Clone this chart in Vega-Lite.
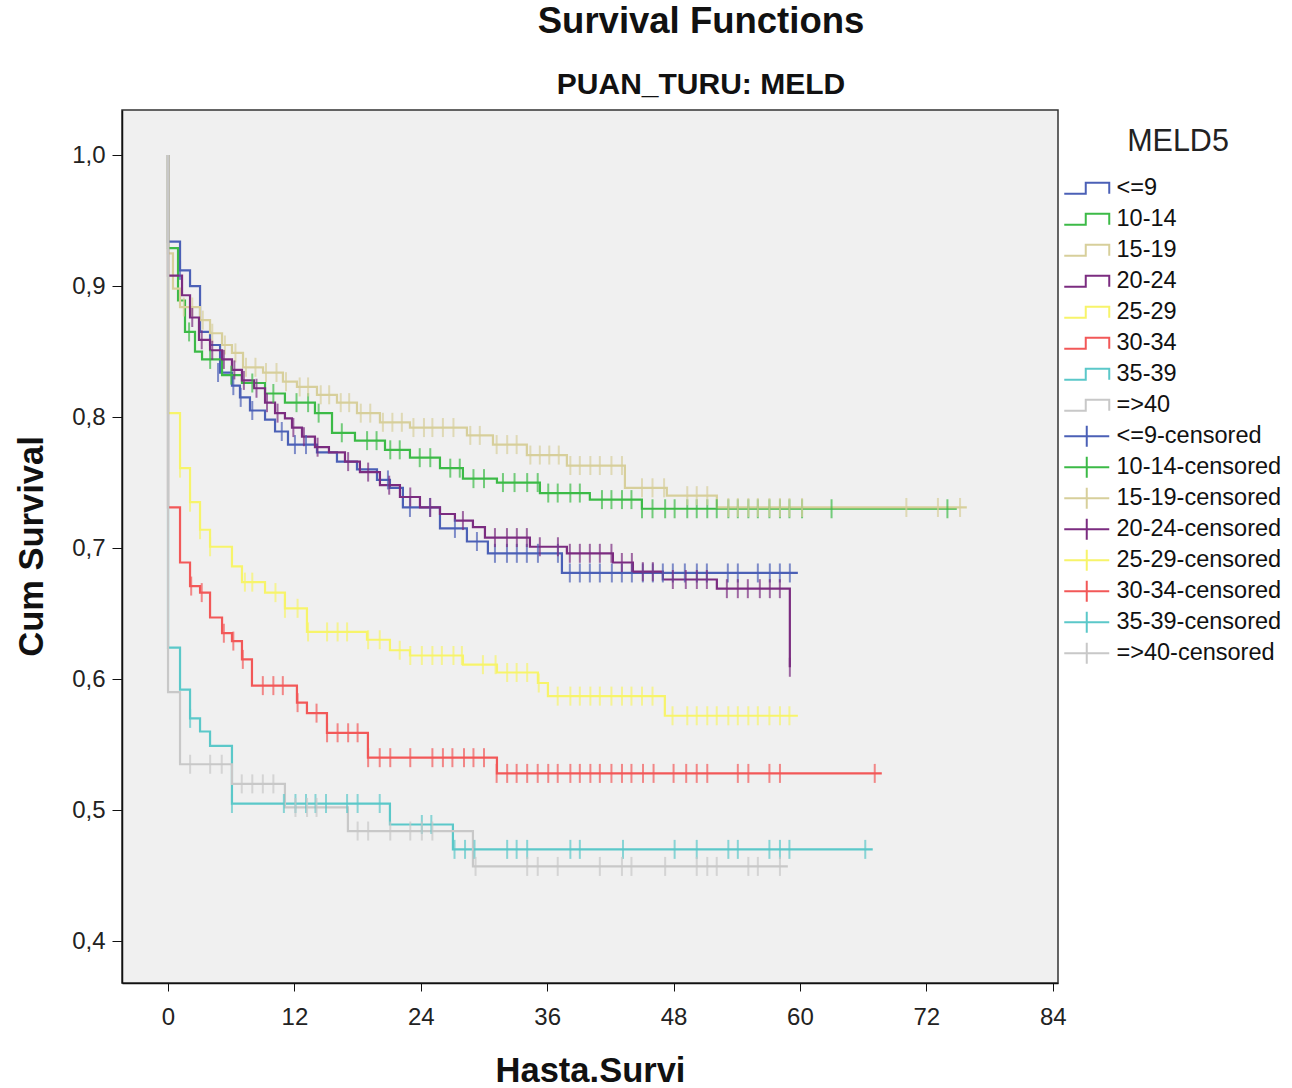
{
"$schema": "https://vega.github.io/schema/vega-lite/v6.json",
"width": 936, "height": 873,
"autosize": {"type": "none"},
"padding": {"left": 122, "top": 110, "right": 234, "bottom": 105},
"background": "white",
"title": {"text": "Survival Functions", "subtitle": "PUAN_TURU: MELD", "anchor": "middle", "dx": 111, "offset": 10, "subtitlePadding": 30,
  "font": "Liberation Sans", "fontSize": 36.5, "fontWeight": "bold", "color": "#111",
  "subtitleFont": "Liberation Sans", "subtitleFontSize": 30, "subtitleFontWeight": "bold", "subtitleColor": "#111"},
"datasets": {
"curves": [
{"g":"<=9","t":0,"s":1},{"g":"<=9","t":0,"s":0.934},{"g":"<=9","t":1.14,"s":0.912},{"g":"<=9","t":2.09,"s":0.9},{"g":"<=9","t":3.04,"s":0.865},{"g":"<=9","t":3.99,"s":0.855},{"g":"<=9","t":4.94,"s":0.834},{"g":"<=9","t":6.07,"s":0.824},{"g":"<=9","t":6.83,"s":0.815},{"g":"<=9","t":7.78,"s":0.805},{"g":"<=9","t":9.21,"s":0.798},{"g":"<=9","t":10.16,"s":0.789},{"g":"<=9","t":11.39,"s":0.779},{"g":"<=9","t":14.14,"s":0.773},{"g":"<=9","t":16.04,"s":0.766},{"g":"<=9","t":17.94,"s":0.76},{"g":"<=9","t":19.84,"s":0.752},{"g":"<=9","t":21.07,"s":0.746},{"g":"<=9","t":22.3,"s":0.731},{"g":"<=9","t":25.82,"s":0.715},{"g":"<=9","t":28.38,"s":0.705},{"g":"<=9","t":30.37,"s":0.696},{"g":"<=9","t":37.4,"s":0.681},{"g":"<=9","t":59.8,"s":0.681},
{"g":"10-14","t":0,"s":1},{"g":"10-14","t":0,"s":0.929},{"g":"10-14","t":0.95,"s":0.889},{"g":"10-14","t":1.61,"s":0.865},{"g":"10-14","t":2.56,"s":0.85},{"g":"10-14","t":3.23,"s":0.844},{"g":"10-14","t":5.13,"s":0.832},{"g":"10-14","t":7.02,"s":0.826},{"g":"10-14","t":9.21,"s":0.818},{"g":"10-14","t":11.1,"s":0.811},{"g":"10-14","t":13.95,"s":0.803},{"g":"10-14","t":15.57,"s":0.788},{"g":"10-14","t":17.75,"s":0.782},{"g":"10-14","t":20.6,"s":0.775},{"g":"10-14","t":22.97,"s":0.769},{"g":"10-14","t":25.82,"s":0.761},{"g":"10-14","t":28.0,"s":0.753},{"g":"10-14","t":31.23,"s":0.75},{"g":"10-14","t":35.31,"s":0.742},{"g":"10-14","t":40.05,"s":0.737},{"g":"10-14","t":44.99,"s":0.73},{"g":"10-14","t":74.89,"s":0.73},
{"g":"15-19","t":0,"s":1},{"g":"15-19","t":0,"s":0.925},{"g":"15-19","t":0.47,"s":0.898},{"g":"15-19","t":1.14,"s":0.884},{"g":"15-19","t":3.04,"s":0.874},{"g":"15-19","t":3.99,"s":0.864},{"g":"15-19","t":5.13,"s":0.855},{"g":"15-19","t":6.07,"s":0.849},{"g":"15-19","t":7.12,"s":0.838},{"g":"15-19","t":9.02,"s":0.834},{"g":"15-19","t":10.91,"s":0.827},{"g":"15-19","t":12.24,"s":0.823},{"g":"15-19","t":14.14,"s":0.817},{"g":"15-19","t":16.04,"s":0.811},{"g":"15-19","t":17.94,"s":0.803},{"g":"15-19","t":20.12,"s":0.796},{"g":"15-19","t":22.97,"s":0.792},{"g":"15-19","t":28.38,"s":0.786},{"g":"15-19","t":30.85,"s":0.779},{"g":"15-19","t":34.07,"s":0.771},{"g":"15-19","t":37.87,"s":0.763},{"g":"15-19","t":43.38,"s":0.746},{"g":"15-19","t":47.36,"s":0.74},{"g":"15-19","t":52.11,"s":0.731},{"g":"15-19","t":75.84,"s":0.731},
{"g":"20-24","t":0,"s":1},{"g":"20-24","t":0,"s":0.908},{"g":"20-24","t":1.33,"s":0.893},{"g":"20-24","t":2.09,"s":0.876},{"g":"20-24","t":2.94,"s":0.859},{"g":"20-24","t":3.99,"s":0.851},{"g":"20-24","t":5.13,"s":0.844},{"g":"20-24","t":6.07,"s":0.836},{"g":"20-24","t":7.02,"s":0.828},{"g":"20-24","t":8.16,"s":0.822},{"g":"20-24","t":9.21,"s":0.811},{"g":"20-24","t":10.16,"s":0.803},{"g":"20-24","t":11.1,"s":0.799},{"g":"20-24","t":11.77,"s":0.792},{"g":"20-24","t":12.72,"s":0.785},{"g":"20-24","t":13.95,"s":0.777},{"g":"20-24","t":15.28,"s":0.773},{"g":"20-24","t":16.8,"s":0.766},{"g":"20-24","t":18.22,"s":0.758},{"g":"20-24","t":20.12,"s":0.748},{"g":"20-24","t":22.02,"s":0.739},{"g":"20-24","t":23.92,"s":0.731},{"g":"20-24","t":25.82,"s":0.726},{"g":"20-24","t":27.24,"s":0.721},{"g":"20-24","t":28.95,"s":0.716},{"g":"20-24","t":30.09,"s":0.708},{"g":"20-24","t":34.36,"s":0.701},{"g":"20-24","t":37.87,"s":0.696},{"g":"20-24","t":42.24,"s":0.689},{"g":"20-24","t":44.14,"s":0.682},{"g":"20-24","t":46.98,"s":0.676},{"g":"20-24","t":52.11,"s":0.669},{"g":"20-24","t":59.04,"s":0.609},
{"g":"25-29","t":0,"s":1},{"g":"25-29","t":0,"s":0.803},{"g":"25-29","t":1.14,"s":0.761},{"g":"25-29","t":2.09,"s":0.735},{"g":"25-29","t":3.04,"s":0.714},{"g":"25-29","t":3.99,"s":0.701},{"g":"25-29","t":6.07,"s":0.686},{"g":"25-29","t":7.02,"s":0.674},{"g":"25-29","t":9.21,"s":0.666},{"g":"25-29","t":11.1,"s":0.654},{"g":"25-29","t":13.19,"s":0.636},{"g":"25-29","t":18.89,"s":0.63},{"g":"25-29","t":21.07,"s":0.622},{"g":"25-29","t":22.97,"s":0.618},{"g":"25-29","t":28.0,"s":0.611},{"g":"25-29","t":31.23,"s":0.605},{"g":"25-29","t":35.12,"s":0.597},{"g":"25-29","t":36.07,"s":0.587},{"g":"25-29","t":47.17,"s":0.572},{"g":"25-29","t":59.8,"s":0.572},
{"g":"30-34","t":0,"s":1},{"g":"30-34","t":0,"s":0.731},{"g":"30-34","t":1.14,"s":0.689},{"g":"30-34","t":2.09,"s":0.671},{"g":"30-34","t":3.04,"s":0.666},{"g":"30-34","t":3.99,"s":0.647},{"g":"30-34","t":5.13,"s":0.635},{"g":"30-34","t":6.07,"s":0.629},{"g":"30-34","t":7.02,"s":0.615},{"g":"30-34","t":7.97,"s":0.595},{"g":"30-34","t":12.24,"s":0.582},{"g":"30-34","t":13.19,"s":0.574},{"g":"30-34","t":15.09,"s":0.559},{"g":"30-34","t":18.98,"s":0.54},{"g":"30-34","t":31.23,"s":0.528},{"g":"30-34","t":67.77,"s":0.528},
{"g":"35-39","t":0,"s":1},{"g":"35-39","t":0,"s":0.624},{"g":"35-39","t":1.14,"s":0.592},{"g":"35-39","t":2.09,"s":0.57},{"g":"35-39","t":3.04,"s":0.56},{"g":"35-39","t":3.99,"s":0.549},{"g":"35-39","t":6.07,"s":0.505},{"g":"35-39","t":21.07,"s":0.489},{"g":"35-39","t":27.05,"s":0.47},{"g":"35-39","t":66.91,"s":0.47},
{"g":"=>40","t":0,"s":1},{"g":"=>40","t":0,"s":0.59},{"g":"=>40","t":1.14,"s":0.535},{"g":"=>40","t":6.07,"s":0.52},{"g":"=>40","t":11.1,"s":0.502},{"g":"=>40","t":17.08,"s":0.484},{"g":"=>40","t":28.95,"s":0.457},{"g":"=>40","t":58.85,"s":0.457}
],
"cens": [
{"g":"<=9-censored","t":1.14,"s":0.912},{"g":"<=9-censored","t":4.75,"s":0.834},{"g":"<=9-censored","t":6.2,"s":0.824},{"g":"<=9-censored","t":6.9,"s":0.815},{"g":"<=9-censored","t":8.0,"s":0.805},{"g":"<=9-censored","t":10.8,"s":0.789},{"g":"<=9-censored","t":12.05,"s":0.779},{"g":"<=9-censored","t":13.1,"s":0.779},{"g":"<=9-censored","t":20.88,"s":0.752},{"g":"<=9-censored","t":22.97,"s":0.731},{"g":"<=9-censored","t":24.87,"s":0.731},{"g":"<=9-censored","t":27.24,"s":0.715},{"g":"<=9-censored","t":29.33,"s":0.705},{"g":"<=9-censored","t":31.04,"s":0.696},{"g":"<=9-censored","t":32.18,"s":0.696},{"g":"<=9-censored","t":33.12,"s":0.696},{"g":"<=9-censored","t":34.07,"s":0.696},{"g":"<=9-censored","t":35.12,"s":0.696},{"g":"<=9-censored","t":37.02,"s":0.696},{"g":"<=9-censored","t":38.15,"s":0.681},{"g":"<=9-censored","t":39.1,"s":0.681},{"g":"<=9-censored","t":40.05,"s":0.681},{"g":"<=9-censored","t":41.0,"s":0.681},{"g":"<=9-censored","t":42.14,"s":0.681},{"g":"<=9-censored","t":43.09,"s":0.681},{"g":"<=9-censored","t":44.04,"s":0.681},{"g":"<=9-censored","t":45.08,"s":0.681},{"g":"<=9-censored","t":46.03,"s":0.681},{"g":"<=9-censored","t":46.98,"s":0.681},{"g":"<=9-censored","t":47.93,"s":0.681},{"g":"<=9-censored","t":49.07,"s":0.681},{"g":"<=9-censored","t":50.21,"s":0.681},{"g":"<=9-censored","t":51.16,"s":0.681},{"g":"<=9-censored","t":53.15,"s":0.681},{"g":"<=9-censored","t":54.1,"s":0.681},{"g":"<=9-censored","t":56.0,"s":0.681},{"g":"<=9-censored","t":57.14,"s":0.681},{"g":"<=9-censored","t":58.09,"s":0.681},{"g":"<=9-censored","t":59.04,"s":0.681},
{"g":"10-14-censored","t":2.0,"s":0.865},{"g":"10-14-censored","t":4.0,"s":0.844},{"g":"10-14-censored","t":6.0,"s":0.832},{"g":"10-14-censored","t":8.0,"s":0.826},{"g":"10-14-censored","t":10.0,"s":0.818},{"g":"10-14-censored","t":12.2,"s":0.811},{"g":"10-14-censored","t":13.3,"s":0.811},{"g":"10-14-censored","t":14.3,"s":0.803},{"g":"10-14-censored","t":16.5,"s":0.788},{"g":"10-14-censored","t":18.9,"s":0.782},{"g":"10-14-censored","t":19.8,"s":0.782},{"g":"10-14-censored","t":21.1,"s":0.775},{"g":"10-14-censored","t":22.0,"s":0.775},{"g":"10-14-censored","t":23.9,"s":0.769},{"g":"10-14-censored","t":24.9,"s":0.769},{"g":"10-14-censored","t":26.8,"s":0.761},{"g":"10-14-censored","t":27.7,"s":0.761},{"g":"10-14-censored","t":29.0,"s":0.753},{"g":"10-14-censored","t":30.0,"s":0.753},{"g":"10-14-censored","t":31.8,"s":0.75},{"g":"10-14-censored","t":32.9,"s":0.75},{"g":"10-14-censored","t":34.1,"s":0.75},{"g":"10-14-censored","t":35.1,"s":0.75},{"g":"10-14-censored","t":36.1,"s":0.742},{"g":"10-14-censored","t":37.0,"s":0.742},{"g":"10-14-censored","t":38.2,"s":0.742},{"g":"10-14-censored","t":39.1,"s":0.742},{"g":"10-14-censored","t":41.2,"s":0.737},{"g":"10-14-censored","t":42.1,"s":0.737},{"g":"10-14-censored","t":43.1,"s":0.737},{"g":"10-14-censored","t":44.0,"s":0.737},{"g":"10-14-censored","t":45.0,"s":0.73},{"g":"10-14-censored","t":46.0,"s":0.73},{"g":"10-14-censored","t":47.2,"s":0.73},{"g":"10-14-censored","t":48.1,"s":0.73},{"g":"10-14-censored","t":49.3,"s":0.73},{"g":"10-14-censored","t":50.2,"s":0.73},{"g":"10-14-censored","t":51.2,"s":0.73},{"g":"10-14-censored","t":52.1,"s":0.73},{"g":"10-14-censored","t":53.2,"s":0.73},{"g":"10-14-censored","t":54.1,"s":0.73},{"g":"10-14-censored","t":55.1,"s":0.73},{"g":"10-14-censored","t":56.0,"s":0.73},{"g":"10-14-censored","t":57.1,"s":0.73},{"g":"10-14-censored","t":58.1,"s":0.73},{"g":"10-14-censored","t":59.0,"s":0.73},{"g":"10-14-censored","t":60.2,"s":0.73},{"g":"10-14-censored","t":63.0,"s":0.73},{"g":"10-14-censored","t":74.0,"s":0.73},
{"g":"15-19-censored","t":1.5,"s":0.884},{"g":"15-19-censored","t":2.3,"s":0.884},{"g":"15-19-censored","t":3.3,"s":0.874},{"g":"15-19-censored","t":4.2,"s":0.864},{"g":"15-19-censored","t":5.4,"s":0.855},{"g":"15-19-censored","t":6.4,"s":0.849},{"g":"15-19-censored","t":7.4,"s":0.838},{"g":"15-19-censored","t":8.3,"s":0.838},{"g":"15-19-censored","t":9.3,"s":0.834},{"g":"15-19-censored","t":10.3,"s":0.834},{"g":"15-19-censored","t":11.2,"s":0.827},{"g":"15-19-censored","t":12.5,"s":0.823},{"g":"15-19-censored","t":13.3,"s":0.823},{"g":"15-19-censored","t":14.5,"s":0.817},{"g":"15-19-censored","t":15.3,"s":0.817},{"g":"15-19-censored","t":16.4,"s":0.811},{"g":"15-19-censored","t":17.2,"s":0.811},{"g":"15-19-censored","t":18.3,"s":0.803},{"g":"15-19-censored","t":19.2,"s":0.803},{"g":"15-19-censored","t":20.4,"s":0.796},{"g":"15-19-censored","t":21.3,"s":0.796},{"g":"15-19-censored","t":22.2,"s":0.796},{"g":"15-19-censored","t":23.3,"s":0.792},{"g":"15-19-censored","t":24.3,"s":0.792},{"g":"15-19-censored","t":25.1,"s":0.792},{"g":"15-19-censored","t":26.1,"s":0.792},{"g":"15-19-censored","t":27.1,"s":0.792},{"g":"15-19-censored","t":28.7,"s":0.786},{"g":"15-19-censored","t":29.6,"s":0.786},{"g":"15-19-censored","t":31.2,"s":0.779},{"g":"15-19-censored","t":32.2,"s":0.779},{"g":"15-19-censored","t":33.1,"s":0.779},{"g":"15-19-censored","t":34.4,"s":0.771},{"g":"15-19-censored","t":35.3,"s":0.771},{"g":"15-19-censored","t":36.2,"s":0.771},{"g":"15-19-censored","t":37.1,"s":0.771},{"g":"15-19-censored","t":38.2,"s":0.763},{"g":"15-19-censored","t":39.1,"s":0.763},{"g":"15-19-censored","t":40.1,"s":0.763},{"g":"15-19-censored","t":41.0,"s":0.763},{"g":"15-19-censored","t":42.1,"s":0.763},{"g":"15-19-censored","t":43.1,"s":0.763},{"g":"15-19-censored","t":45.0,"s":0.746},{"g":"15-19-censored","t":46.0,"s":0.746},{"g":"15-19-censored","t":47.1,"s":0.746},{"g":"15-19-censored","t":49.3,"s":0.74},{"g":"15-19-censored","t":50.2,"s":0.74},{"g":"15-19-censored","t":51.2,"s":0.74},{"g":"15-19-censored","t":53.2,"s":0.731},{"g":"15-19-censored","t":54.1,"s":0.731},{"g":"15-19-censored","t":55.1,"s":0.731},{"g":"15-19-censored","t":56.0,"s":0.731},{"g":"15-19-censored","t":57.1,"s":0.731},{"g":"15-19-censored","t":58.1,"s":0.731},{"g":"15-19-censored","t":59.0,"s":0.731},{"g":"15-19-censored","t":60.2,"s":0.731},{"g":"15-19-censored","t":70.1,"s":0.731},{"g":"15-19-censored","t":73.1,"s":0.731},{"g":"15-19-censored","t":75.2,"s":0.731},
{"g":"20-24-censored","t":2.3,"s":0.876},{"g":"20-24-censored","t":3.2,"s":0.859},{"g":"20-24-censored","t":4.2,"s":0.851},{"g":"20-24-censored","t":5.3,"s":0.844},{"g":"20-24-censored","t":6.3,"s":0.836},{"g":"20-24-censored","t":7.2,"s":0.828},{"g":"20-24-censored","t":8.4,"s":0.822},{"g":"20-24-censored","t":9.4,"s":0.811},{"g":"20-24-censored","t":10.4,"s":0.803},{"g":"20-24-censored","t":11.9,"s":0.792},{"g":"20-24-censored","t":12.9,"s":0.785},{"g":"20-24-censored","t":14.2,"s":0.777},{"g":"20-24-censored","t":17.1,"s":0.766},{"g":"20-24-censored","t":19.0,"s":0.758},{"g":"20-24-censored","t":21.0,"s":0.748},{"g":"20-24-censored","t":23.0,"s":0.739},{"g":"20-24-censored","t":24.9,"s":0.731},{"g":"20-24-censored","t":28.0,"s":0.721},{"g":"20-24-censored","t":31.04,"s":0.708},{"g":"20-24-censored","t":32.18,"s":0.708},{"g":"20-24-censored","t":33.12,"s":0.708},{"g":"20-24-censored","t":34.07,"s":0.708},{"g":"20-24-censored","t":35.3,"s":0.701},{"g":"20-24-censored","t":37.02,"s":0.701},{"g":"20-24-censored","t":38.15,"s":0.696},{"g":"20-24-censored","t":39.1,"s":0.696},{"g":"20-24-censored","t":40.05,"s":0.696},{"g":"20-24-censored","t":41.0,"s":0.696},{"g":"20-24-censored","t":42.1,"s":0.696},{"g":"20-24-censored","t":43.09,"s":0.689},{"g":"20-24-censored","t":44.04,"s":0.689},{"g":"20-24-censored","t":45.08,"s":0.682},{"g":"20-24-censored","t":46.03,"s":0.682},{"g":"20-24-censored","t":47.93,"s":0.676},{"g":"20-24-censored","t":49.16,"s":0.676},{"g":"20-24-censored","t":50.21,"s":0.676},{"g":"20-24-censored","t":51.16,"s":0.676},{"g":"20-24-censored","t":53.06,"s":0.669},{"g":"20-24-censored","t":54.1,"s":0.669},{"g":"20-24-censored","t":55.05,"s":0.669},{"g":"20-24-censored","t":56.19,"s":0.669},{"g":"20-24-censored","t":57.14,"s":0.669},{"g":"20-24-censored","t":58.09,"s":0.669},{"g":"20-24-censored","t":59.04,"s":0.609},
{"g":"25-29-censored","t":1.14,"s":0.761},{"g":"25-29-censored","t":2.09,"s":0.735},{"g":"25-29-censored","t":3.04,"s":0.714},{"g":"25-29-censored","t":3.99,"s":0.701},{"g":"25-29-censored","t":7.3,"s":0.674},{"g":"25-29-censored","t":8.0,"s":0.674},{"g":"25-29-censored","t":10.2,"s":0.666},{"g":"25-29-censored","t":11.1,"s":0.654},{"g":"25-29-censored","t":12.3,"s":0.654},{"g":"25-29-censored","t":13.3,"s":0.636},{"g":"25-29-censored","t":15.1,"s":0.636},{"g":"25-29-censored","t":16.1,"s":0.636},{"g":"25-29-censored","t":17.0,"s":0.636},{"g":"25-29-censored","t":19.0,"s":0.63},{"g":"25-29-censored","t":20.1,"s":0.63},{"g":"25-29-censored","t":22.0,"s":0.622},{"g":"25-29-censored","t":23.0,"s":0.618},{"g":"25-29-censored","t":24.1,"s":0.618},{"g":"25-29-censored","t":25.1,"s":0.618},{"g":"25-29-censored","t":26.0,"s":0.618},{"g":"25-29-censored","t":27.1,"s":0.618},{"g":"25-29-censored","t":27.9,"s":0.618},{"g":"25-29-censored","t":29.9,"s":0.611},{"g":"25-29-censored","t":31.1,"s":0.611},{"g":"25-29-censored","t":32.2,"s":0.605},{"g":"25-29-censored","t":33.1,"s":0.605},{"g":"25-29-censored","t":34.1,"s":0.605},{"g":"25-29-censored","t":35.2,"s":0.597},{"g":"25-29-censored","t":37.0,"s":0.587},{"g":"25-29-censored","t":38.2,"s":0.587},{"g":"25-29-censored","t":39.1,"s":0.587},{"g":"25-29-censored","t":40.1,"s":0.587},{"g":"25-29-censored","t":41.0,"s":0.587},{"g":"25-29-censored","t":42.1,"s":0.587},{"g":"25-29-censored","t":43.1,"s":0.587},{"g":"25-29-censored","t":44.0,"s":0.587},{"g":"25-29-censored","t":45.0,"s":0.587},{"g":"25-29-censored","t":46.0,"s":0.587},{"g":"25-29-censored","t":47.9,"s":0.572},{"g":"25-29-censored","t":49.3,"s":0.572},{"g":"25-29-censored","t":50.2,"s":0.572},{"g":"25-29-censored","t":51.2,"s":0.572},{"g":"25-29-censored","t":52.1,"s":0.572},{"g":"25-29-censored","t":53.2,"s":0.572},{"g":"25-29-censored","t":54.1,"s":0.572},{"g":"25-29-censored","t":55.1,"s":0.572},{"g":"25-29-censored","t":56.0,"s":0.572},{"g":"25-29-censored","t":57.1,"s":0.572},{"g":"25-29-censored","t":58.1,"s":0.572},{"g":"25-29-censored","t":59.0,"s":0.572},
{"g":"30-34-censored","t":2.2,"s":0.671},{"g":"30-34-censored","t":3.2,"s":0.666},{"g":"30-34-censored","t":5.3,"s":0.635},{"g":"30-34-censored","t":6.2,"s":0.629},{"g":"30-34-censored","t":7.1,"s":0.615},{"g":"30-34-censored","t":9.0,"s":0.595},{"g":"30-34-censored","t":10.0,"s":0.595},{"g":"30-34-censored","t":10.9,"s":0.595},{"g":"30-34-censored","t":12.3,"s":0.582},{"g":"30-34-censored","t":14.1,"s":0.574},{"g":"30-34-censored","t":15.1,"s":0.559},{"g":"30-34-censored","t":16.1,"s":0.559},{"g":"30-34-censored","t":17.1,"s":0.559},{"g":"30-34-censored","t":18.0,"s":0.559},{"g":"30-34-censored","t":19.0,"s":0.54},{"g":"30-34-censored","t":20.1,"s":0.54},{"g":"30-34-censored","t":21.1,"s":0.54},{"g":"30-34-censored","t":23.0,"s":0.54},{"g":"30-34-censored","t":25.1,"s":0.54},{"g":"30-34-censored","t":26.1,"s":0.54},{"g":"30-34-censored","t":27.0,"s":0.54},{"g":"30-34-censored","t":28.1,"s":0.54},{"g":"30-34-censored","t":29.0,"s":0.54},{"g":"30-34-censored","t":30.0,"s":0.54},{"g":"30-34-censored","t":31.2,"s":0.528},{"g":"30-34-censored","t":32.2,"s":0.528},{"g":"30-34-censored","t":33.1,"s":0.528},{"g":"30-34-censored","t":34.1,"s":0.528},{"g":"30-34-censored","t":35.1,"s":0.528},{"g":"30-34-censored","t":36.1,"s":0.528},{"g":"30-34-censored","t":37.0,"s":0.528},{"g":"30-34-censored","t":38.2,"s":0.528},{"g":"30-34-censored","t":39.1,"s":0.528},{"g":"30-34-censored","t":40.1,"s":0.528},{"g":"30-34-censored","t":41.0,"s":0.528},{"g":"30-34-censored","t":42.1,"s":0.528},{"g":"30-34-censored","t":43.1,"s":0.528},{"g":"30-34-censored","t":44.0,"s":0.528},{"g":"30-34-censored","t":45.1,"s":0.528},{"g":"30-34-censored","t":46.1,"s":0.528},{"g":"30-34-censored","t":48.0,"s":0.528},{"g":"30-34-censored","t":49.2,"s":0.528},{"g":"30-34-censored","t":50.2,"s":0.528},{"g":"30-34-censored","t":51.2,"s":0.528},{"g":"30-34-censored","t":54.1,"s":0.528},{"g":"30-34-censored","t":55.1,"s":0.528},{"g":"30-34-censored","t":57.1,"s":0.528},{"g":"30-34-censored","t":58.1,"s":0.528},{"g":"30-34-censored","t":67.1,"s":0.528},
{"g":"35-39-censored","t":2.1,"s":0.57},{"g":"35-39-censored","t":6.07,"s":0.505},{"g":"35-39-censored","t":11.0,"s":0.505},{"g":"35-39-censored","t":12.1,"s":0.505},{"g":"35-39-censored","t":13.1,"s":0.505},{"g":"35-39-censored","t":14.0,"s":0.505},{"g":"35-39-censored","t":15.0,"s":0.505},{"g":"35-39-censored","t":17.0,"s":0.505},{"g":"35-39-censored","t":18.0,"s":0.505},{"g":"35-39-censored","t":20.1,"s":0.505},{"g":"35-39-censored","t":24.1,"s":0.489},{"g":"35-39-censored","t":25.0,"s":0.489},{"g":"35-39-censored","t":27.2,"s":0.47},{"g":"35-39-censored","t":28.2,"s":0.47},{"g":"35-39-censored","t":29.1,"s":0.47},{"g":"35-39-censored","t":32.2,"s":0.47},{"g":"35-39-censored","t":33.1,"s":0.47},{"g":"35-39-censored","t":34.1,"s":0.47},{"g":"35-39-censored","t":38.2,"s":0.47},{"g":"35-39-censored","t":39.1,"s":0.47},{"g":"35-39-censored","t":43.2,"s":0.47},{"g":"35-39-censored","t":48.1,"s":0.47},{"g":"35-39-censored","t":50.2,"s":0.47},{"g":"35-39-censored","t":53.2,"s":0.47},{"g":"35-39-censored","t":54.1,"s":0.47},{"g":"35-39-censored","t":57.1,"s":0.47},{"g":"35-39-censored","t":58.1,"s":0.47},{"g":"35-39-censored","t":59.0,"s":0.47},{"g":"35-39-censored","t":66.2,"s":0.47},
{"g":"=>40-censored","t":2.1,"s":0.535},{"g":"=>40-censored","t":4.0,"s":0.535},{"g":"=>40-censored","t":5.1,"s":0.535},{"g":"=>40-censored","t":7.0,"s":0.52},{"g":"=>40-censored","t":8.0,"s":0.52},{"g":"=>40-censored","t":9.0,"s":0.52},{"g":"=>40-censored","t":10.0,"s":0.52},{"g":"=>40-censored","t":12.1,"s":0.502},{"g":"=>40-censored","t":13.2,"s":0.502},{"g":"=>40-censored","t":14.1,"s":0.502},{"g":"=>40-censored","t":18.0,"s":0.484},{"g":"=>40-censored","t":19.0,"s":0.484},{"g":"=>40-censored","t":21.1,"s":0.484},{"g":"=>40-censored","t":23.0,"s":0.484},{"g":"=>40-censored","t":24.1,"s":0.484},{"g":"=>40-censored","t":25.1,"s":0.484},{"g":"=>40-censored","t":29.2,"s":0.457},{"g":"=>40-censored","t":34.1,"s":0.457},{"g":"=>40-censored","t":35.1,"s":0.457},{"g":"=>40-censored","t":37.0,"s":0.457},{"g":"=>40-censored","t":41.0,"s":0.457},{"g":"=>40-censored","t":43.1,"s":0.457},{"g":"=>40-censored","t":44.0,"s":0.457},{"g":"=>40-censored","t":47.2,"s":0.457},{"g":"=>40-censored","t":50.2,"s":0.457},{"g":"=>40-censored","t":51.2,"s":0.457},{"g":"=>40-censored","t":52.1,"s":0.457},{"g":"=>40-censored","t":55.1,"s":0.457},{"g":"=>40-censored","t":56.0,"s":0.457},{"g":"=>40-censored","t":58.1,"s":0.457}
]
},
"encoding": {
  "x": {"field": "t", "type": "quantitative", "scale": {"domain": [-4.37, 84.5], "nice": false, "zero": false},
    "axis": {"values": [0, 12, 24, 36, 48, 60, 72, 84], "title": "Hasta.Survi", "grid": false,
      "titleFont": "Liberation Sans", "titleFontSize": 34.5, "titleFontWeight": "bold", "titleColor": "#111",
      "titleX": 468, "titleY": 88, "titleBaseline": "middle", "titleAlign": "center",
      "labelFont": "Liberation Sans", "labelFontSize": 24, "labelColor": "#222", "labelPadding": 14,
      "tickSize": 8, "tickColor": "#111", "domainColor": "#111", "domainWidth": 1.5}},
  "y": {"field": "s", "type": "quantitative", "scale": {"domain": [0.368, 1.0344], "nice": false, "zero": false},
    "axis": {"values": [0.4, 0.5, 0.6, 0.7, 0.8, 0.9, 1.0], "title": "Cum Survival", "grid": false,
      "labelExpr": "replace(format(datum.value, '.1f'), '.', ',')",
      "titleFont": "Liberation Sans", "titleFontSize": 34.5, "titleFontWeight": "bold", "titleColor": "#111",
      "titleX": -90, "titleY": 436, "titleAngle": -90, "titleBaseline": "middle", "titleAlign": "center",
      "labelFont": "Liberation Sans", "labelFontSize": 24, "labelColor": "#222", "labelPadding": 7,
      "tickSize": 10, "tickColor": "#111", "domainColor": "#111", "domainWidth": 1.5}}
},
"layer": [
  {"data": {"name": "curves"},
   "mark": {"type": "line", "interpolate": "step-after", "strokeWidth": 2.2},
   "encoding": {
     "color": {"field": "g", "type": "nominal",
       "scale": {"domain": ["<=9","10-14","15-19","20-24","25-29","30-34","35-39","=>40","<=9-censored","10-14-censored","15-19-censored","20-24-censored","25-29-censored","30-34-censored","35-39-censored","=>40-censored"],
                 "range": ["#4b60b6","#3cba47","#d7cf9b","#7b2c80","#f7f46a","#f25858","#5bc8c9","#c8c8c8","#4b60b6","#3cba47","#d7cf9b","#7b2c80","#f7f46a","#f25858","#5bc8c9","#c8c8c8"]},
       "legend": {"orient": "none", "legendX": 953, "legendY": 17, "title": "MELD5",
         "titleFont": "Liberation Sans", "titleFontSize": 30.5, "titleFontWeight": "normal", "titleColor": "#222", "titleAnchor": "middle", "titlePadding": 19,
         "labelFont": "Liberation Sans", "labelFontSize": 23.5, "labelColor": "#111", "labelOffset": 18, "labelLimit": 400,
         "symbolSize": 100, "symbolStrokeWidth": 2, "rowPadding": 1, "symbolFillColor": "transparent",
         "symbolType": {"expr": "indexof(datum.value, 'censored') > 0 ? 'M-4.5,0H4.5M0,-2.1V2.1M0,2.1V-2.1M4.5,0H-4.5' : 'M-4.5,1.1H-0.2V-1.1H4.5V1.1V-1.1H-0.2V1.1ZM0,-2.1L0,-2.1M0,2.1L0,2.1'"}}}
   }},
  {"data": {"name": "cens"},
   "mark": {"type": "tick", "orient": "vertical", "size": 19, "thickness": 2},
   "encoding": {"color": {"field": "g", "type": "nominal", "legend": null}}}
],
"config": {
  "view": {"fill": "#f0f0f0", "stroke": "#333", "strokeWidth": 1.5},
  "font": "Liberation Sans"
}
}
